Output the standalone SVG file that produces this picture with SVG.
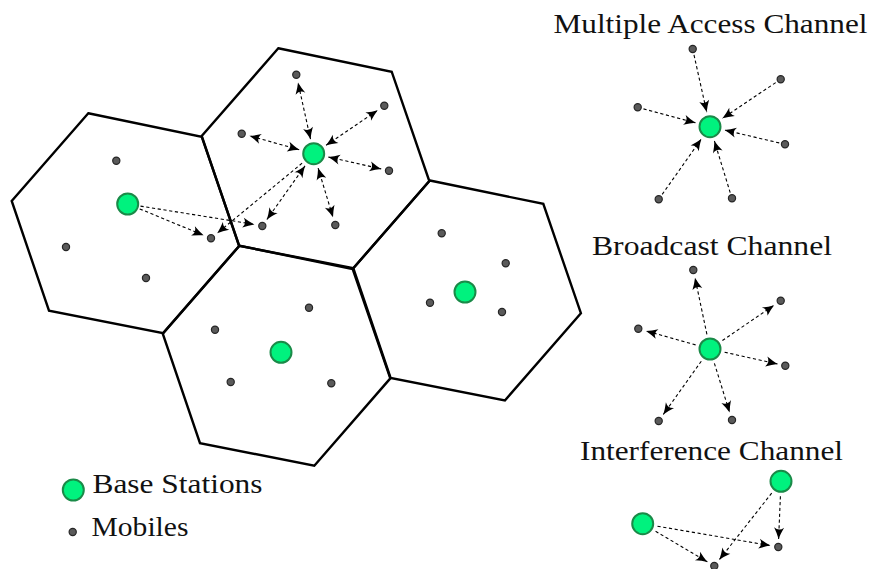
<svg xmlns="http://www.w3.org/2000/svg" width="873" height="569" viewBox="0 0 873 569">
<style>
.cell{fill:none;stroke:#000;stroke-width:2.4;stroke-linejoin:miter}
.bs{fill:#00f27e;stroke:#1a8a48;stroke-width:2}
.mob{fill:#5a5a5a;stroke:#262626;stroke-width:1.2}
.con{fill:none;stroke:#000;stroke-width:1.1;stroke-dasharray:3.2 2.6}
.one{marker-end:url(#ah)}
.two{marker-start:url(#ah);marker-end:url(#ah)}
text{font-family:"Liberation Serif","Times New Roman",serif;font-size:27px;fill:#111}
</style>
<defs>
<marker id="ah" viewBox="-12 -6 13 12" refX="0" refY="0" markerWidth="13" markerHeight="12" markerUnits="userSpaceOnUse" orient="auto-start-reverse">
<path d="M0,0 Q-5.5,-1.8 -11.5,-5 Q-7.4,0 -11.5,5 Q-5.5,1.8 0,0 Z" fill="#000"/>
</marker>
<polygon id="hex" points="88.3,113.3 201.7,136.7 239.3,246 163.3,333.3 49,310.7 11.7,201"/>
</defs>

<g id="cells">
<g id="cell1"><use href="#hex" class="cell"/></g>
<g id="cell2"><use href="#hex" class="cell" transform="translate(190,-65)"/></g>
<g id="cell3"><use href="#hex" class="cell" transform="translate(151,132.4)"/></g>
<g id="cell4"><use href="#hex" class="cell" transform="translate(341.6,67.2)"/></g>
</g>

<g id="connectors">
<line class="con two" x1="310.5" y1="139.1" x2="298.0" y2="82.5"/>
<line class="con two" x1="326.1" y1="145.3" x2="377.7" y2="110.2"/>
<line class="con two" x1="299.2" y1="149.7" x2="249.4" y2="135.8"/>
<line class="con two" x1="328.3" y1="157.0" x2="381.2" y2="168.9"/>
<line class="con two" x1="318.1" y1="168.1" x2="333.0" y2="217.3"/>
<line class="con two" x1="305.0" y1="165.9" x2="266.9" y2="219.5"/>
<line class="con one" x1="302.1" y1="163.2" x2="217.2" y2="233.2"/>
<line class="con one" x1="140.5" y1="206.1" x2="254.4" y2="224.4"/>
<line class="con one" x1="139.7" y1="208.9" x2="203.6" y2="235.3"/>

<line class="con one" x1="694.0" y1="54.9" x2="706.7" y2="112.1"/>
<line class="con one" x1="775.7" y1="82.6" x2="722.5" y2="118.3"/>
<line class="con one" x1="643.5" y1="108.9" x2="695.5" y2="122.8"/>
<line class="con one" x1="779.2" y1="142.9" x2="724.6" y2="130.1"/>
<line class="con one" x1="662.2" y1="194.4" x2="701.3" y2="139.0"/>
<line class="con one" x1="730.2" y1="192.6" x2="714.4" y2="141.0"/>

<line class="con one" x1="706.9" y1="334.3" x2="695.0" y2="277.8"/>
<line class="con one" x1="722.4" y1="340.5" x2="774.1" y2="305.2"/>
<line class="con one" x1="695.6" y1="344.9" x2="646.0" y2="330.9"/>
<line class="con one" x1="724.6" y1="352.2" x2="777.5" y2="364.0"/>
<line class="con one" x1="701.3" y1="361.2" x2="663.3" y2="414.5"/>
<line class="con one" x1="714.4" y1="363.3" x2="729.6" y2="412.4"/>

<line class="con one" x1="657.5" y1="526.2" x2="770.4" y2="545.6"/>
<line class="con one" x1="655.6" y1="531.3" x2="707.4" y2="561.9"/>
<line class="con one" x1="780.4" y1="496.3" x2="778.6" y2="539.0"/>
<line class="con one" x1="771.7" y1="493.1" x2="719.3" y2="559.7"/>
</g>

<g id="base-stations">
<g id="bs1"><circle class="bs" cx="127.7" cy="204" r="10.5"/></g>
<g id="bs2"><circle class="bs" cx="313.7" cy="153.7" r="10.5"/></g>
<g id="bs3"><circle class="bs" cx="281" cy="352.3" r="10.5"/></g>
<g id="bs4"><circle class="bs" cx="465" cy="292" r="10.5"/></g>
<g id="bs-mac"><circle class="bs" cx="710" cy="126.7" r="10.5"/></g>
<g id="bs-bc"><circle class="bs" cx="710" cy="349" r="10.5"/></g>
<g id="bs-ic1"><circle class="bs" cx="642.7" cy="523.7" r="10.5"/></g>
<g id="bs-ic2"><circle class="bs" cx="781" cy="481.3" r="10.5"/></g>
<g id="bs-legend"><circle class="bs" cx="73.3" cy="490" r="10.5"/></g>
</g>

<g id="mobiles">
<g id="m1a"><circle class="mob" cx="116.3" cy="160.7" r="3.6"/></g>
<g id="m1b"><circle class="mob" cx="66" cy="247" r="3.6"/></g>
<g id="m1c"><circle class="mob" cx="146" cy="278" r="3.6"/></g>
<g id="m1d"><circle class="mob" cx="211" cy="238.3" r="3.6"/></g>
<g id="m2a"><circle class="mob" cx="296.3" cy="74.7" r="3.6"/></g>
<g id="m2b"><circle class="mob" cx="384.3" cy="105.7" r="3.6"/></g>
<g id="m2c"><circle class="mob" cx="241.7" cy="133.7" r="3.6"/></g>
<g id="m2d"><circle class="mob" cx="389" cy="170.7" r="3.6"/></g>
<g id="m2e"><circle class="mob" cx="335.3" cy="225" r="3.6"/></g>
<g id="m2f"><circle class="mob" cx="262.3" cy="226" r="3.6"/></g>
<g id="m3a"><circle class="mob" cx="309" cy="307.7" r="3.6"/></g>
<g id="m3b"><circle class="mob" cx="215" cy="329.7" r="3.6"/></g>
<g id="m3c"><circle class="mob" cx="230.7" cy="382" r="3.6"/></g>
<g id="m3d"><circle class="mob" cx="331.3" cy="383.3" r="3.6"/></g>
<g id="m4a"><circle class="mob" cx="441.7" cy="233.3" r="3.6"/></g>
<g id="m4b"><circle class="mob" cx="505.7" cy="263.3" r="3.6"/></g>
<g id="m4c"><circle class="mob" cx="430" cy="302.7" r="3.6"/></g>
<g id="m4d"><circle class="mob" cx="502" cy="312" r="3.6"/></g>
<g id="mac-a"><circle class="mob" cx="692.7" cy="49" r="3.6"/></g>
<g id="mac-b"><circle class="mob" cx="780.7" cy="79.3" r="3.6"/></g>
<g id="mac-c"><circle class="mob" cx="637.7" cy="107.3" r="3.6"/></g>
<g id="mac-d"><circle class="mob" cx="785" cy="144.3" r="3.6"/></g>
<g id="mac-e"><circle class="mob" cx="658.7" cy="199.3" r="3.6"/></g>
<g id="mac-f"><circle class="mob" cx="732" cy="198.3" r="3.6"/></g>
<g id="bc-a"><circle class="mob" cx="693.3" cy="270" r="3.6"/></g>
<g id="bc-b"><circle class="mob" cx="780.7" cy="300.7" r="3.6"/></g>
<g id="bc-c"><circle class="mob" cx="638.3" cy="328.7" r="3.6"/></g>
<g id="bc-d"><circle class="mob" cx="785.3" cy="365.7" r="3.6"/></g>
<g id="bc-e"><circle class="mob" cx="658.7" cy="421" r="3.6"/></g>
<g id="bc-f"><circle class="mob" cx="732" cy="420" r="3.6"/></g>
<g id="ic-m1"><circle class="mob" cx="778.3" cy="547" r="3.6"/></g>
<g id="ic-m2"><circle class="mob" cx="714.3" cy="566" r="3.6"/></g>
<g id="mob-legend"><circle class="mob" cx="72.7" cy="532" r="3.6"/></g>
</g>

<g id="labels">
<text x="553.5" y="33" textLength="314" lengthAdjust="spacingAndGlyphs">Multiple Access Channel</text>
<text x="592" y="255" textLength="240" lengthAdjust="spacingAndGlyphs">Broadcast Channel</text>
<text x="580" y="460" textLength="263" lengthAdjust="spacingAndGlyphs">Interference Channel</text>
<text x="92.5" y="493" textLength="170" lengthAdjust="spacingAndGlyphs">Base Stations</text>
<text x="91.5" y="536" textLength="97" lengthAdjust="spacingAndGlyphs">Mobiles</text>
</g>
</svg>
